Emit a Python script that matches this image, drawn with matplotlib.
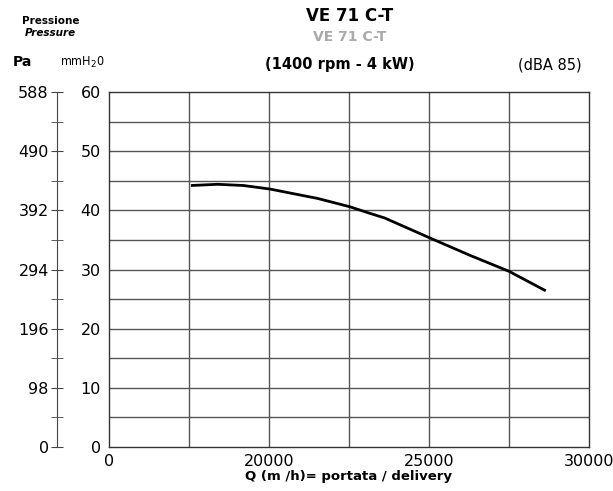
import matplotlib
matplotlib.use("Agg")
import matplotlib.pyplot as plt
import numpy as np

# fan curve VE 71 C-T
flow = [17560, 18400, 19200, 20030, 21530, 22530, 23150, 23620, 25000, 26280, 27500, 28650]
pressure_mm = [44.2, 44.4, 44.2, 43.6, 42.0, 40.6, 39.5, 38.7, 35.4, 32.4, 29.7, 26.4]

x_ticks = [15000, 20000, 25000, 30000]
x_tick_labels = ["0", "20000", "25000", "30000"]
mm_ticks = [0, 10, 20, 30, 40, 50, 60]
pa_ticks = [0, 98, 196, 294, 392, 490, 588]

fig = plt.figure(figsize=(6.13, 4.91), dpi=100)
ax = fig.add_axes([0.1778, 0.0896, 0.783, 0.723])

grid_col = "#555555"
ax.set_xlim(15000, 30000)
ax.set_ylim(0, 60)
for gx in np.arange(17500, 30000, 2500):
    ax.axvline(gx, color=grid_col, lw=1.0, zorder=1)
for gy in np.arange(5, 60, 5):
    ax.axhline(gy, color=grid_col, lw=1.0, zorder=1)

ax.plot(flow, pressure_mm, color="black", lw=2.0, zorder=3, solid_capstyle="butt")

ax.set_xticks(x_ticks, x_tick_labels)
ax.set_yticks(mm_ticks)
ax.tick_params(axis="both", length=0, labelsize=11.5)
ax.tick_params(axis="y", pad=6)
ax.tick_params(axis="x", pad=5)
for s in ax.spines.values():
    s.set_color("#333333")
    s.set_linewidth(1.0)

# outer Pa scale
ax2 = ax.twinx()
ax2.set_ylim(0, 588)
ax2.spines["left"].set_position(("axes", -0.108))
ax2.spines["left"].set_visible(True)
ax2.spines["left"].set_color("#444444")
for side in ["right", "top", "bottom"]:
    ax2.spines[side].set_visible(False)
ax2.yaxis.set_ticks_position("left")
ax2.yaxis.set_label_position("left")
ax2.set_yticks(pa_ticks)
ax2.set_yticks([49, 147, 245, 343, 441, 539], minor=True)
ax2.tick_params(axis="y", which="major", direction="inout", length=8, labelsize=11.5, pad=2, color="#444444")
ax2.tick_params(axis="y", which="minor", direction="inout", length=8, color="#444444")

ax.set_xlabel("Q (m /h)= portata / delivery", fontsize=9.5, fontweight="bold", labelpad=1)

fig.text(0.571, 0.967, "VE 71 C-T", ha="center", va="center", fontsize=12, fontweight="bold")
fig.text(0.571, 0.925, "VE 71 C-T", ha="center", va="center", fontsize=10, fontweight="bold", color="#aaaaaa")
fig.text(0.555, 0.868, "(1400 rpm - 4 kW)", ha="center", va="center", fontsize=10.5, fontweight="bold")
fig.text(0.897, 0.868, "(dBA 85)", ha="center", va="center", fontsize=10.5)
fig.text(0.082, 0.958, "Pressione", ha="center", va="center", fontsize=7.5, fontweight="bold")
fig.text(0.082, 0.933, "Pressure", ha="center", va="center", fontsize=7.5, fontweight="bold", style="italic")
fig.text(0.036, 0.873, "Pa", ha="center", va="center", fontsize=10, fontweight="bold")
fig.text(0.135, 0.873, "mmH$_2$0", ha="center", va="center", fontsize=9, fontstretch="condensed")

fig.savefig("out.png", dpi=100)
